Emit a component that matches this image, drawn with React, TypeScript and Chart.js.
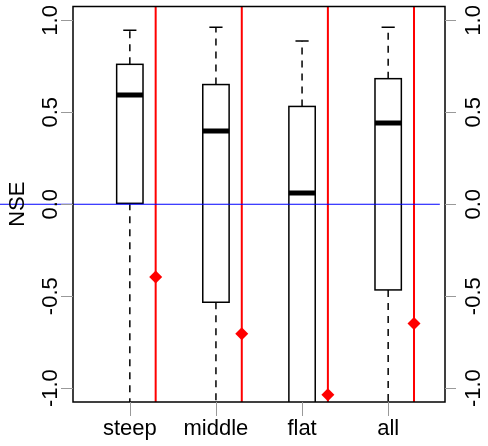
import React, { useEffect, useRef } from "react";
import { Chart, registerables } from "chart.js";

Chart.register(...registerables);

// Groups along the x axis
const categories = ["steep", "middle", "flat", "all"];

// Box statistics per group (NSE)
const whiskerHigh = [0.946, 0.962, 0.888, 0.962];
const upperQuartile = [0.761, 0.651, 0.532, 0.683];
const medians = [0.594, 0.399, 0.061, 0.442];
const lowerQuartile = [0.005, -0.533, -1.35, -0.466];
const whiskerLow = [-1.45, -2.3, -3.2, -2.6];

// Mean NSE per group, shown as red diamonds
const means = [-0.396, -0.704, -1.036, -0.648];

// Y axis ticks
const yTicks = [-1, -0.5, 0, 0.5, 1];
const yTickLabels = ["-1.0", "-0.5", "0.0", "0.5", "1.0"];

const Y_MIN = -1.0755;
const Y_MAX = 1.0755;
const X_MIN = 0.34;
const X_MAX = 4.66;
const MEAN_OFFSET = 0.3;
const BOX_HALF = 0.153;
const ZERO_LINE_FROM = -0.6;
const ZERO_LINE_TO = 4.6;

const FONT = "22px 'Liberation Sans', Arial, Helvetica, sans-serif";

const boxPlotPlugin = {
  id: "boxPlot",
  beforeDatasetsDraw(chart: any) {
    const { ctx, chartArea, scales } = chart;
    const xs = scales.x;
    const ys = scales.y;
    ctx.save();
    ctx.beginPath();
    ctx.rect(chartArea.left, chartArea.top, chartArea.right - chartArea.left, chartArea.bottom - chartArea.top);
    ctx.clip();
    categories.forEach((_, i) => {
      const pos = i + 1;
      const cx = xs.getPixelForValue(pos);
      const left = xs.getPixelForValue(pos - BOX_HALF);
      const right = xs.getPixelForValue(pos + BOX_HALF);
      const capL = xs.getPixelForValue(pos - BOX_HALF / 2);
      const capR = xs.getPixelForValue(pos + BOX_HALF / 2);
      const yWh = ys.getPixelForValue(whiskerHigh[i]);
      const yQ3 = ys.getPixelForValue(upperQuartile[i]);
      const yMed = ys.getPixelForValue(medians[i]);
      const yQ1 = ys.getPixelForValue(lowerQuartile[i]);
      const yWl = ys.getPixelForValue(whiskerLow[i]);

      ctx.strokeStyle = "#000";
      ctx.lineWidth = 1.5;
      // dashed whiskers
      ctx.setLineDash([7, 6]);
      ctx.beginPath();
      ctx.moveTo(cx, yQ3);
      ctx.lineTo(cx, yWh);
      ctx.moveTo(cx, yQ1);
      ctx.lineTo(cx, yWl);
      ctx.stroke();
      ctx.setLineDash([]);
      // staples
      ctx.beginPath();
      ctx.moveTo(capL, yWh);
      ctx.lineTo(capR, yWh);
      ctx.moveTo(capL, yWl);
      ctx.lineTo(capR, yWl);
      ctx.stroke();
      // box
      ctx.fillStyle = "#fff";
      ctx.fillRect(left, yQ3, right - left, yQ1 - yQ3);
      ctx.strokeRect(left, yQ3, right - left, yQ1 - yQ3);
      // median
      ctx.lineWidth = 5;
      ctx.beginPath();
      ctx.moveTo(left, yMed);
      ctx.lineTo(right, yMed);
      ctx.stroke();
    });
    ctx.restore();
  },
  afterDraw(chart: any) {
    const { ctx, chartArea, scales } = chart;
    const xs = scales.x;
    const ys = scales.y;
    const { left, right, top, bottom } = chartArea;
    ctx.save();
    // frame
    ctx.strokeStyle = "#000";
    ctx.lineWidth = 1.5;
    ctx.strokeRect(left, top, right - left, bottom - top);

    // ticks
    ctx.strokeStyle = "#999";
    ctx.lineWidth = 1;
    ctx.beginPath();
    yTicks.forEach((v) => {
      const y = Math.round(ys.getPixelForValue(v)) + 0.5;
      ctx.moveTo(left - 12, y);
      ctx.lineTo(left, y);
      ctx.moveTo(right, y);
      ctx.lineTo(right + 11, y);
    });
    categories.forEach((_, i) => {
      const x = Math.round(xs.getPixelForValue(i + 1)) + 0.5;
      ctx.moveTo(x, bottom);
      ctx.lineTo(x, bottom + 14);
    });
    ctx.stroke();

    ctx.fillStyle = "#000";
    ctx.font = FONT;
    ctx.textAlign = "center";
    ctx.textBaseline = "alphabetic";
    // rotated y labels on both sides
    yTicks.forEach((v, k) => {
      const y = ys.getPixelForValue(v);
      [57, 480].forEach((bx) => {
        ctx.save();
        ctx.translate(bx, y);
        ctx.rotate(-Math.PI / 2);
        ctx.fillText(yTickLabels[k], 0, 0);
        ctx.restore();
      });
    });
    // category labels
    categories.forEach((c, i) => {
      ctx.fillText(c, xs.getPixelForValue(i + 1), 435);
    });
    // axis title
    ctx.save();
    ctx.translate(23.5, (top + bottom) / 2);
    ctx.rotate(-Math.PI / 2);
    ctx.fillText("NSE", 0, 0);
    ctx.restore();
    ctx.restore();
  },
};

export default function App() {
  const canvasRef = useRef<HTMLCanvasElement | null>(null);

  useEffect(() => {
    const canvas = canvasRef.current;
    if (!canvas) return;

    const redLines = categories.map((_, i) => ({
      type: "line" as const,
      data: [
        { x: i + 1 + MEAN_OFFSET, y: Y_MIN },
        { x: i + 1 + MEAN_OFFSET, y: Y_MAX },
      ],
      borderColor: "#ff0000",
      borderWidth: 2,
      pointRadius: 0,
      showLine: true,
    }));

    const chart = new Chart(canvas, {
      type: "scatter",
      data: {
        datasets: [
          {
            type: "line" as const,
            data: [
              { x: ZERO_LINE_FROM, y: 0 },
              { x: ZERO_LINE_TO, y: 0 },
            ],
            borderColor: "#0000ff",
            borderWidth: 1,
            pointRadius: 0,
            clip: false as any,
            showLine: true,
          },
          ...redLines,
          {
            type: "scatter" as const,
            data: means.map((m, i) => ({ x: i + 1 + MEAN_OFFSET, y: m })),
            pointStyle: "rectRot",
            pointRadius: 6.5,
            backgroundColor: "#ff0000",
            borderColor: "#ff0000",
            borderWidth: 0,
          },
        ] as any,
      },
      options: {
        responsive: false,
        animation: false,
        devicePixelRatio: 1,
        layout: { padding: { left: 73, right: 43, top: 3, bottom: 44 } },
        scales: {
          x: { type: "linear", min: X_MIN, max: X_MAX, display: false },
          y: { type: "linear", min: Y_MIN, max: Y_MAX, display: false },
        },
        plugins: {
          legend: { display: false },
          tooltip: { enabled: false },
        },
        events: [],
      },
      plugins: [boxPlotPlugin],
    });

    return () => chart.destroy();
  }, []);

  return (
    <div style={{ position: "absolute", left: 0, top: 0, width: 488, height: 446, background: "#fff" }}>
      <canvas ref={canvasRef} width={488} height={446} style={{ width: 488, height: 446, display: "block" }} />
    </div>
  );
}
